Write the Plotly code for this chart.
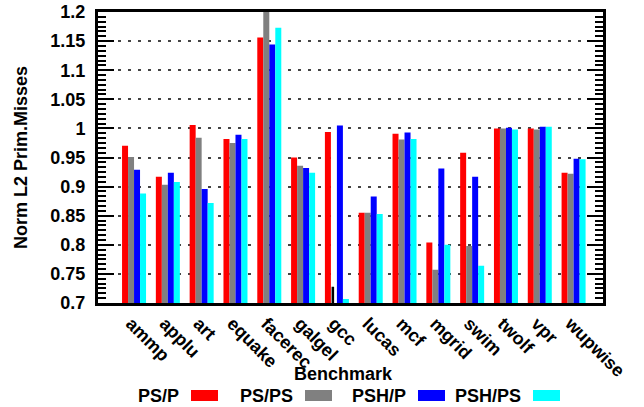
import plotly.graph_objects as go

# Normalised L2 primary misses per benchmark, four prefetch configurations
benchmarks = ["ammp", "applu", "art", "equake", "facerec", "galgel", "gcc",
              "lucas", "mcf", "mgrid", "swim", "twolf", "vpr", "wupwise"]

ps_p = [0.970, 0.917, 1.006, 0.982, 1.156, 0.950, 0.994, 0.855, 0.991, 0.804,
        0.958, 1.000, 1.000, 0.924]
ps_ps = [0.951, 0.903, 0.984, 0.975, 1.210, 0.936, 0.728, 0.855, 0.981, 0.757,
         0.798, 1.000, 0.998, 0.922]
psh_p = [0.929, 0.924, 0.896, 0.989, 1.144, 0.932, 1.005, 0.883, 0.993, 0.931,
         0.917, 1.001, 1.003, 0.948]
psh_ps = [0.888, 0.908, 0.872, 0.982, 1.173, 0.924, 0.707, 0.853, 0.982, 0.800,
          0.764, 0.998, 1.003, 0.947]

series_names = ["PS/P", "PS/PS", "PSH/P", "PSH/PS"]
series_values = [ps_p, ps_ps, psh_p, psh_ps]
series_colors = ["#ff0000", "#808080", "#0000ff", "#00ffff"]

y_ticks = [0.7, 0.75, 0.8, 0.85, 0.9, 0.95, 1.0, 1.05, 1.1, 1.15, 1.2]
y_ticktext = ["0.7", "0.75", "0.8", "0.85", "0.9", "0.95", "1", "1.05", "1.1", "1.15", "1.2"]

FONT = "Liberation Sans, Arial, sans-serif"
FS = 18
xs = list(range(len(benchmarks)))
bar_w = 0.1775
group_start = -2 * bar_w
label_shift = -0.09  # rotated labels sit slightly left of the group centre

fig = go.Figure()
for i, (name, vals, col) in enumerate(zip(series_names, series_values, series_colors)):
    widths = [bar_w] * len(vals)
    offsets = [group_start + i * bar_w] * len(vals)
    colors = [col] * len(vals)
    if name == "PS/PS":
        # gcc's PS/PS bar is drawn as a thin dark stroke
        g = benchmarks.index("gcc")
        widths[g] = 0.075
        offsets[g] = group_start + i * bar_w + 0.02
        colors[g] = "#000000"
    fig.add_trace(go.Bar(
        x=xs, y=vals, name=name, width=widths, offset=offsets,
        marker=dict(color=colors, line=dict(width=0)),
        showlegend=False,
    ))

fig.update_layout(
    width=644, height=407,
    margin=dict(l=98, r=41, t=12, b=104, autoexpand=False),
    paper_bgcolor="white", plot_bgcolor="white",
    font=dict(family=FONT, size=FS, color="black", weight="bold"),
    barmode="overlay",
)

fig.update_xaxes(
    range=[-1.066, 13.87], automargin=False,
    tickvals=[x + label_shift for x in xs], ticktext=benchmarks, tickangle=45,
    tickfont=dict(family=FONT, size=FS, weight="bold"),
    showline=True, linecolor="black", linewidth=3, mirror=True,
    ticks="", showgrid=False, zeroline=False,
)
fig.update_yaxes(
    range=[0.7, 1.2], automargin=False,
    tickvals=y_ticks, ticktext=y_ticktext,
    tickfont=dict(family=FONT, size=FS, weight="bold"),
    showline=True, linecolor="black", linewidth=3, mirror="ticks",
    ticks="inside", ticklen=16, tickwidth=2, tickcolor="black",
    ticklabelstandoff=6,
    minor=dict(ticks="inside", ticklen=8, tickwidth=2, tickcolor="black",
               dtick=0.05 / 6, showgrid=False),
    showgrid=True, gridcolor="#444444", gridwidth=2, griddash="3px,7px",
    zeroline=False,
)

# axis titles
fig.add_annotation(text="Benchmark", xref="paper", yref="paper",
                   x=(343 - 98) / 505, y=(303 - 374) / 291,
                   xanchor="center", yanchor="middle", showarrow=False,
                   font=dict(family=FONT, size=FS, weight="bold"))
fig.add_annotation(text="Norm L2 Prim.Misses", xref="paper", yref="paper",
                   x=(21 - 98) / 505, y=(303 - 158) / 291, textangle=-90,
                   xanchor="center", yanchor="middle", showarrow=False,
                   font=dict(family=FONT, size=FS, weight="bold"))

# legend row: label followed by colour swatch
swatch_left = [191, 305, 418, 533]
for name, col, sl in zip(series_names, series_colors, swatch_left):
    fig.add_shape(type="rect", xref="paper", yref="paper",
                  x0=(sl - 98) / 505, x1=(sl + 27 - 98) / 505,
                  y0=(303 - 401) / 291, y1=(303 - 390) / 291,
                  fillcolor=col, line=dict(width=0))
    fig.add_annotation(text=name, xref="paper", yref="paper",
                       x=(sl - 10 - 98) / 505, y=(303 - 396) / 291,
                       xanchor="right", yanchor="middle", showarrow=False,
                       font=dict(family=FONT, size=FS, weight="bold"))

fig.write_html("out.html")
